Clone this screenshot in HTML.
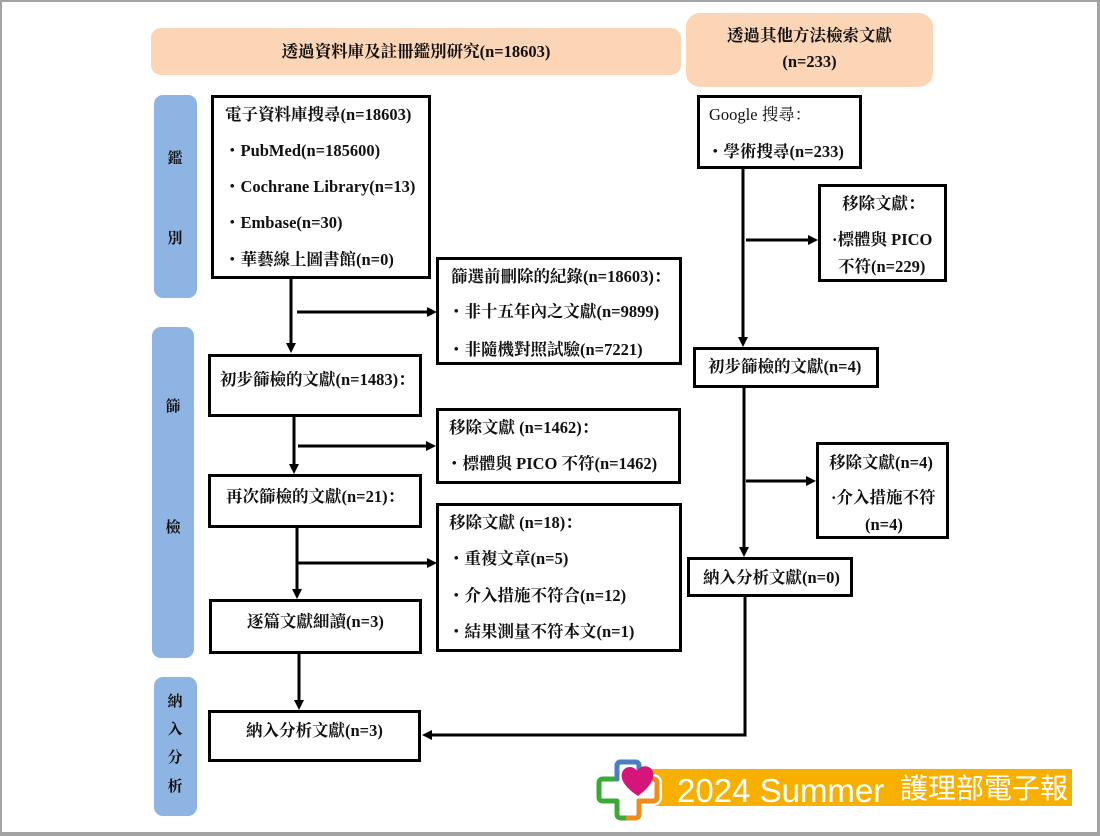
<!DOCTYPE html>
<html><head><meta charset="utf-8">
<style>
html,body{margin:0;padding:0;background:#fff;}
body{width:1100px;height:836px;position:relative;overflow:hidden;}
.frame{position:absolute;left:0;top:0;width:1100px;height:836px;box-sizing:border-box;border-left:2px solid #a3a3a3;border-top:2px solid #a3a3a3;border-right:3px solid #a3a3a3;border-bottom:4px solid #a3a3a3;}
.hdr{position:absolute;background:#fbd5b5;}
.lab{position:absolute;background:#8eb4e3;border-radius:9px;}
.box{position:absolute;box-sizing:border-box;border:3px solid #000;background:#fff;}
.t{position:absolute;white-space:nowrap;font:bold 16.5px/20px "Liberation Serif","Noto Serif CJK SC",serif;color:#111;}
.c{position:absolute;width:30px;text-align:center;font:bold 15px/20px "Liberation Serif","Noto Serif CJK SC",serif;color:#111;}
.n{font-weight:normal;}
svg{position:absolute;left:0;top:0;}
</style></head>
<body>
<div class="frame"></div>

<div class="hdr" style="left:151px;top:28px;width:530px;height:47px;border-radius:10px;"></div>
<div class="hdr" style="left:686px;top:13px;width:247px;height:74px;border-radius:14px;"></div>
<div class="t" style="left:151px;width:530px;text-align:center;top:42px;">透過資料庫及註冊鑑別研究(n=18603)</div>
<div class="t" style="left:686px;width:247px;text-align:center;top:26px;">透過其他方法檢索文獻</div>
<div class="t" style="left:686px;width:247px;text-align:center;top:52px;">(n=233)</div>

<div class="lab" style="left:154px;top:95px;width:43px;height:203px;"></div>
<div class="lab" style="left:152px;top:327px;width:42px;height:331px;"></div>
<div class="lab" style="left:154px;top:677px;width:43px;height:139px;"></div>
<div class="c" style="left:160px;top:149px;">鑑</div>
<div class="c" style="left:160px;top:229px;">別</div>
<div class="c" style="left:158px;top:397px;">篩</div>
<div class="c" style="left:158px;top:518px;">檢</div>
<div class="c" style="left:160px;top:692px;">納</div>
<div class="c" style="left:160px;top:720px;">入</div>
<div class="c" style="left:160px;top:748px;">分</div>
<div class="c" style="left:160px;top:777px;">析</div>

<!-- boxes -->
<div class="box" style="left:211px;top:95px;width:220px;height:184px;"></div>
<div class="box" style="left:436px;top:257px;width:246px;height:108px;"></div>
<div class="box" style="left:208px;top:354px;width:214px;height:63px;"></div>
<div class="box" style="left:436px;top:408px;width:245px;height:76px;"></div>
<div class="box" style="left:208px;top:474px;width:214px;height:54px;"></div>
<div class="box" style="left:436px;top:503px;width:246px;height:149px;"></div>
<div class="box" style="left:209px;top:599px;width:213px;height:55px;"></div>
<div class="box" style="left:208px;top:710px;width:213px;height:52px;"></div>
<div class="box" style="left:697px;top:95px;width:165px;height:74px;"></div>
<div class="box" style="left:818px;top:184px;width:129px;height:98px;"></div>
<div class="box" style="left:693px;top:347px;width:186px;height:41px;"></div>
<div class="box" style="left:816px;top:442px;width:133px;height:97px;"></div>
<div class="box" style="left:687px;top:557px;width:166px;height:40px;"></div>

<!-- box texts -->
<div class="t" style="left:225px;top:105px;">電子資料庫搜尋(n=18603)</div>
<div class="t" style="left:224px;top:141px;">・PubMed(n=185600)</div>
<div class="t" style="left:224px;top:177px;">・Cochrane Library(n=13)</div>
<div class="t" style="left:224px;top:213px;">・Embase(n=30)</div>
<div class="t" style="left:224px;top:250px;">・華藝線上圖書館(n=0)</div>

<div class="t" style="left:451px;top:267px;">篩選前刪除的紀錄(n=18603)：</div>
<div class="t" style="left:448px;top:302px;">・非十五年內之文獻(n=9899)</div>
<div class="t" style="left:448px;top:340px;">・非隨機對照試驗(n=7221)</div>

<div class="t" style="left:220px;top:370px;">初步篩檢的文獻(n=1483)：</div>

<div class="t" style="left:449px;top:418px;">移除文獻 (n=1462)：</div>
<div class="t" style="left:446px;top:454px;">・標體與 PICO 不符(n=1462)</div>

<div class="t" style="left:226px;top:487px;">再次篩檢的文獻(n=21)：</div>

<div class="t" style="left:449px;top:513px;">移除文獻 (n=18)：</div>
<div class="t" style="left:448px;top:549px;">・重複文章(n=5)</div>
<div class="t" style="left:448px;top:586px;">・介入措施不符合(n=12)</div>
<div class="t" style="left:448px;top:622px;">・結果測量不符本文(n=1)</div>

<div class="t" style="left:247px;top:612px;">逐篇文獻細讀(n=3)</div>
<div class="t" style="left:246px;top:721px;">納入分析文獻(n=3)</div>

<div class="t n" style="left:709px;top:105px;">Google 搜尋：</div>
<div class="t" style="left:707px;top:142px;">・學術搜尋(n=233)</div>

<div class="t" style="left:842px;top:194px;">移除文獻：</div>
<div class="t" style="left:832px;top:230px;">·標體與 PICO</div>
<div class="t" style="left:838px;top:257px;">不符(n=229)</div>

<div class="t" style="left:708px;top:357px;">初步篩檢的文獻(n=4)</div>

<div class="t" style="left:829px;top:453px;">移除文獻(n=4)</div>
<div class="t" style="left:831px;top:488px;">·介入措施不符</div>
<div class="t" style="left:865px;top:515px;">(n=4)</div>

<div class="t" style="left:703px;top:568px;">納入分析文獻(n=0)</div>

<!-- banner bar -->
<div style="position:absolute;left:643px;top:769px;width:429px;height:37px;background:#f7b000;"></div>
<div style="position:absolute;left:677px;top:772px;height:37px;line-height:37px;font:33px/37px 'Liberation Sans',sans-serif;color:#fff;white-space:nowrap;">2024 Summer</div>
<div style="position:absolute;left:900px;top:770px;height:37px;font:28px/37px 'Liberation Sans','Noto Sans CJK TC',sans-serif;color:#fff;white-space:nowrap;">護理部電子報</div>

<svg width="1100" height="836" viewBox="0 0 1100 836">
  <g stroke="#000" stroke-width="3" fill="none">
    <path d="M291 279 V344"/>
    <path d="M297 312 H428"/>
    <path d="M294 417 V465"/>
    <path d="M298 446 H427"/>
    <path d="M297 528 V590"/>
    <path d="M298 563 H428"/>
    <path d="M299 654 V701"/>
    <path d="M743 169 V338"/>
    <path d="M746 240 H809"/>
    <path d="M744 388 V548"/>
    <path d="M746 481 H807"/>
    <path d="M745 597 V735 H431"/>
  </g>
  <g fill="#000">
    <polygon points="286,343 296,343 291,353"/>
    <polygon points="427,307 427,317 437,312"/>
    <polygon points="289,464 299,464 294,474"/>
    <polygon points="426,441 426,451 436,446"/>
    <polygon points="292,589 302,589 297,599"/>
    <polygon points="427,558 427,568 437,563"/>
    <polygon points="294,700 304,700 299,710"/>
    <polygon points="738,337 748,337 743,347"/>
    <polygon points="808,235 808,245 818,240"/>
    <polygon points="739,547 749,547 744,557"/>
    <polygon points="806,476 806,486 816,481"/>
    <polygon points="432,730 432,740 422,735"/>
  </g>
  <!-- logo -->
  <g stroke-linejoin="round" stroke-linecap="round" fill="none">
    <path d="M617 773 V766 Q617 762 621 762 H635 Q639 762 639 766 V779 H653 Q657 779 657 783 V797 Q657 801 653 801 H639 V814 Q639 818 635 818 H621 Q617 818 617 814 V801 H603 Q599 801 599 797 V783 Q599 779 603 779 H617 Z" stroke="#fff" stroke-width="10" fill="#fff"/>
    <path d="M617 773 V766 Q617 762 621 762 H635 Q639 762 639 766 V779 H653 Q657 779 657 783 V797 Q657 801 653 801 H639 V814 Q639 818 635 818 H621 Q617 818 617 814 V801 H603 Q599 801 599 797 V783 Q599 779 603 779 H617 Z" stroke="#3aaa35" stroke-width="5"/>
    <path d="M617 779 V766 Q617 762 621 762 H635 Q639 762 639 766 V779" stroke="#4a7fc4" stroke-width="5"/>
    <path d="M639 779 H653 Q657 779 657 783 V797 Q657 801 653 801 H639 V814 Q639 818 635 818 H628" stroke="#f08c1a" stroke-width="5"/>
  </g>
  <path d="M638 796 C626 788 620 780 622 773 C624 766 633 765 637 771 C641 764 651 765 653 772 C655 780 648 789 638 796 Z" fill="#d6157b"/>
</svg>
</body></html>
